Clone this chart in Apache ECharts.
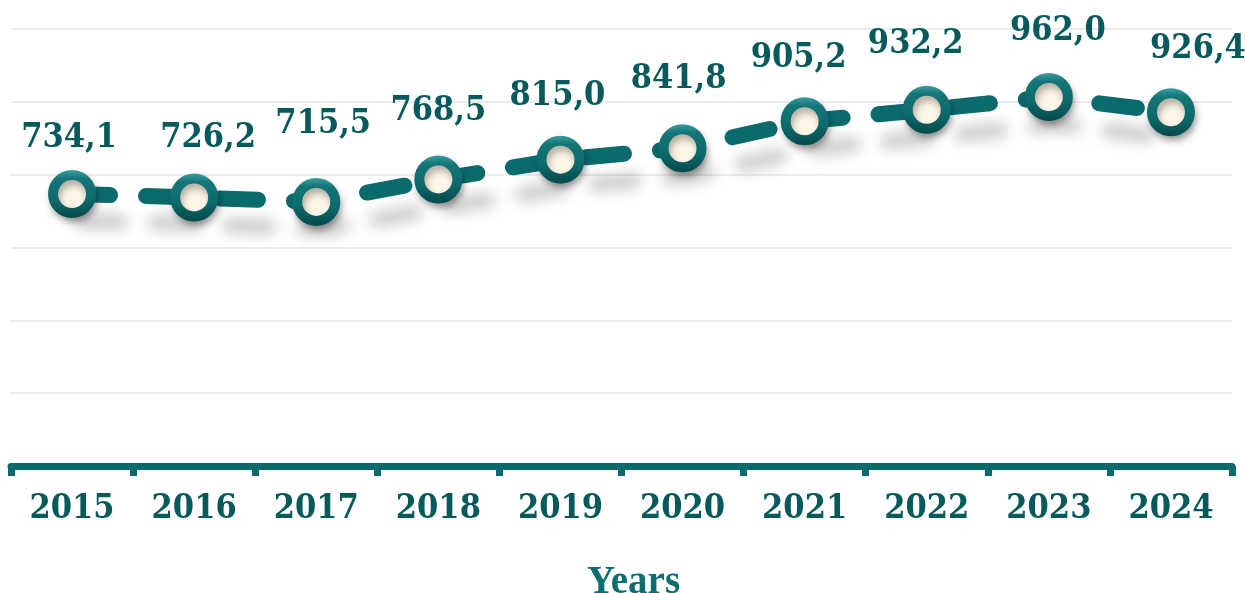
<!DOCTYPE html>
<html>
<head>
<meta charset="utf-8">
<script src="https://cdn.jsdelivr.net/npm/echarts@6/dist/echarts.min.js"></script>
<style>
  html, body { margin: 0; padding: 0; background: #ffffff; }
  #chart { width: 1245px; height: 593px; }
</style>
</head>
<body>
<div id="chart"></div>
<script>
// ---- data ----
const years = ['2015', '2016', '2017', '2018', '2019', '2020', '2021', '2022', '2023', '2024'];
const values = [734.1, 726.2, 715.5, 768.5, 815.0, 841.8, 905.2, 932.2, 962.0, 926.4];
const axisTitle = 'Years';

// ---- styling ----
const teal = '#0b6a6c';
const darkTeal = '#075a5c';
const labelFont = "'DejaVu Serif Condensed', 'DejaVu Serif', serif";
// small per-label nudges [dx, dy] to mimic the reference's hand-placed labels
const labelNudges = [[-3, 9], [14, 6], [7, -13], [0, -3], [-3, 2], [-4, -4], [-6, 2], [-11, -1], [9, -1], [27, 2]];

const chart = echarts.init(document.getElementById('chart'));

const ringGradient = new echarts.graphic.LinearGradient(0, 0, 0, 1, [
  { offset: 0, color: '#3a9ea0' },
  { offset: 0.18, color: '#147577' },
  { offset: 0.6, color: '#0d6a6c' },
  { offset: 1, color: '#05494b' }
]);

const seriesData = values.map((v, i) => ({
  value: v,
  label: { offset: labelNudges[i] }
}));

chart.setOption({
  animation: false,
  grid: { left: 11, right: 13, top: 29, bottom: 127, containLabel: false, outerBoundsMode: 'none' },
  xAxis: {
    type: 'category',
    data: years,
    boundaryGap: true,
    axisLine: { show: true, lineStyle: { color: teal, width: 7 } },
    axisTick: { show: true, length: 10, lineStyle: { color: teal, width: 7 } },
    axisLabel: {
      margin: 26,
      color: darkTeal,
      fontFamily: labelFont,
      fontWeight: 'bold',
      fontSize: 34
    },
    name: axisTitle,
    nameLocation: 'middle',
    nameGap: 97,
    nameTextStyle: {
      color: '#0d6e70',
      fontFamily: "'Liberation Serif', 'Times New Roman', serif",
      fontWeight: 'bold',
      fontSize: 39,
      padding: [0, 0, 0, 24]
    }
  },
  yAxis: [
    {
      type: 'value',
      min: 0,
      max: 6,
      interval: 1,
      axisLine: { show: false },
      axisTick: { show: false },
      axisLabel: { show: false },
      splitLine: { show: true, lineStyle: { color: '#ececec', width: 2 } }
    },
    {
      type: 'value',
      min: 95,
      max: 1122,
      show: false,
      splitLine: { show: false }
    }
  ],
  series: [{
    type: 'line',
    yAxisIndex: 1,
    data: seriesData,
    symbol: 'circle',
    symbolSize: 38,
    lineStyle: {
      color: teal,
      width: 16,
      type: [38, 36],
      cap: 'round',
      shadowColor: 'rgba(0,0,0,0.2)',
      shadowBlur: 14,
      shadowOffsetX: 10,
      shadowOffsetY: 27
    },
    itemStyle: {
      color: '#fdf6e6',
      borderColor: ringGradient,
      borderWidth: 10,
      shadowColor: 'rgba(0,0,0,0.3)',
      shadowBlur: 7,
      shadowOffsetX: 2,
      shadowOffsetY: 5
    },
    label: {
      show: true,
      position: 'top',
      distance: 24,
      color: darkTeal,
      fontFamily: labelFont,
      fontWeight: 'bold',
      fontSize: 34,
      formatter: p => p.value.toFixed(1).replace('.', ',')
    },
    emphasis: { disabled: true }
  }]
});
</script>
</body>
</html>
